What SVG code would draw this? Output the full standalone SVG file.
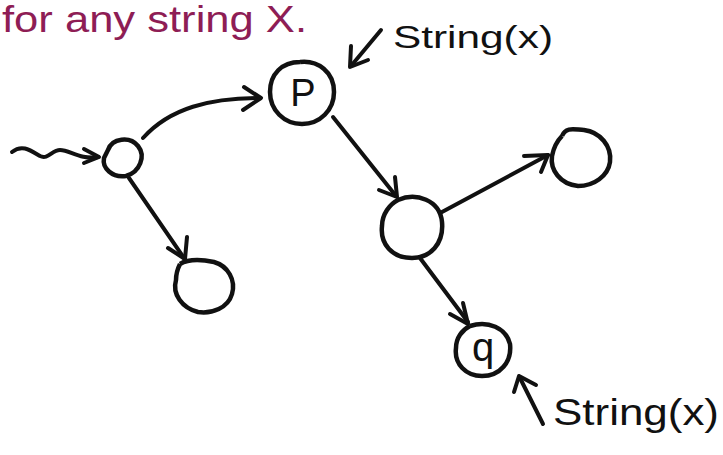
<svg xmlns="http://www.w3.org/2000/svg" width="723" height="455" viewBox="0 0 723 455">
  <style>
    .node { fill: none; stroke: #111; stroke-width: 4.5; }
    .edge { fill: none; stroke: #111; stroke-width: 4; stroke-linecap: round; stroke-linejoin: round; }
    .label { font-family: "Liberation Sans", Arial, sans-serif; fill: #111; }
    .note { font-family: "Liberation Sans", Arial, sans-serif; fill: #8e1d55; }
  </style>
  <rect width="723" height="455" fill="#ffffff"/>

  <!-- header note -->
  <text class="note" x="2" y="32" font-size="36" textLength="305" lengthAdjust="spacingAndGlyphs">for any string X.</text>

  <!-- connectors -->
  <g id="edges">
    <!-- entry arrow -->
    <path class="edge" d="M12 152 C22 144 30 150 40 156 C48 160 52 150 60 150 C70 150 80 160 98 157"/>
    <path class="edge" d="M84 149 L99 157 L84 163"/>
    <!-- start -> P -->
    <path class="edge" d="M143 138 C170 108 210 98 260 98"/>
    <path class="edge" d="M244 87 L261 98 L243 110"/>
    <!-- P -> middle -->
    <path class="edge" d="M333 117 L396 196"/>
    <path class="edge" d="M379 190 L397 197 L395 177"/>
    <!-- middle -> top right -->
    <path class="edge" d="M442 212 L548 155"/>
    <path class="edge" d="M524 156 L548 155 L541 172"/>
    <!-- start -> bottom left -->
    <path class="edge" d="M129 178 L184 258"/>
    <path class="edge" d="M168 248 L185 259 L187 237"/>
    <!-- middle -> q -->
    <path class="edge" d="M420 258 L468 322"/>
    <path class="edge" d="M450 314 L468 324 L463 303"/>
    <!-- label pointers -->
    <path class="edge" d="M381 30 L351 66"/>
    <path class="edge" d="M351 46 L350 67 L368 60"/>
    <path class="edge" d="M543 424 L520 378"/>
    <path class="edge" d="M514 392 L519 376 L536 385"/>
  </g>

  <!-- nodes -->
  <g id="start">
    <path class="node" d="M108 150 C112 138 130 136 138 146 C146 156 140 172 126 176 C112 178 102 168 104 158 Z"/>
  </g>
  <g id="p">
    <path class="node" d="M300 62 C318 60 334 72 334 92 C334 110 320 124 302 124 C284 124 270 110 270 92 C270 74 282 62 300 62"/>
    <text class="label" x="303" y="106" font-size="38" text-anchor="middle">P</text>
  </g>
  <g id="middle">
    <path class="node" d="M398 200 C416 192 440 200 442 222 C444 244 430 258 412 258 C392 258 380 244 382 226 C382 214 390 204 398 200"/>
  </g>
  <g id="right">
    <path class="node" d="M562 136 C566 126 576 130 584 130 C600 132 612 146 610 162 C608 176 594 186 578 186 C560 184 550 170 552 156 C554 146 558 140 562 136"/>
  </g>
  <g id="bottom-left">
    <path class="node" d="M180 264 C190 258 204 260 214 262 C228 266 236 280 232 294 C228 308 212 314 198 312 C182 308 172 294 176 280 C176 272 178 268 180 264"/>
  </g>
  <g id="q">
    <path class="node" d="M470 326 C488 320 506 328 510 344 C512 362 500 376 482 376 C466 376 454 364 456 348 C456 338 462 330 470 326"/>
    <text class="label" x="483" y="361" font-size="40" text-anchor="middle">q</text>
  </g>

  <!-- labels -->
  <g id="label-top">
    <text class="label" x="393" y="48" font-size="32" textLength="160" lengthAdjust="spacingAndGlyphs">String(x)</text>
  </g>
  <g id="label-bottom">
    <text class="label" x="553" y="425" font-size="36" textLength="166" lengthAdjust="spacingAndGlyphs">String(x)</text>
  </g>
</svg>
